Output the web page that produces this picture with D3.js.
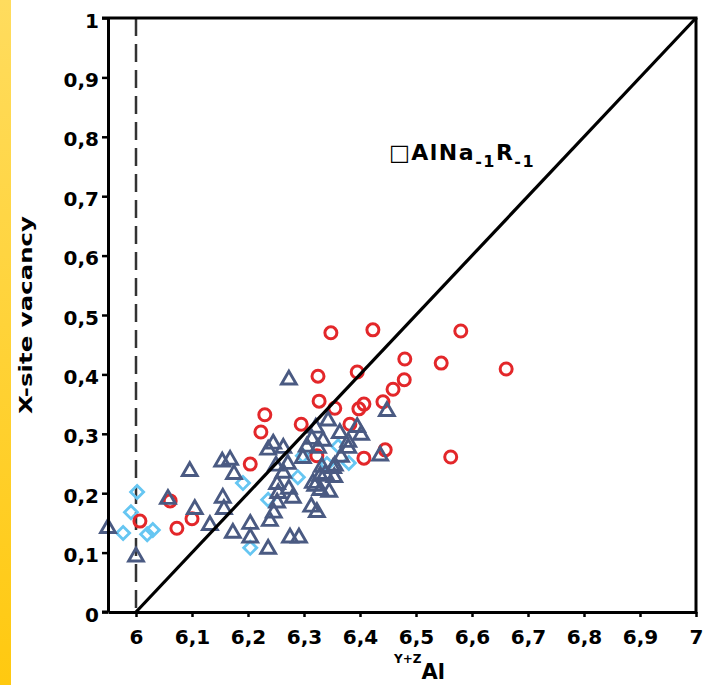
<!DOCTYPE html>
<html>
<head>
<meta charset="utf-8">
<script src="https://cdn.jsdelivr.net/npm/d3@7"></script>
<style>
html,body{margin:0;padding:0;background:#fff;}
svg{display:block;}
</style>
</head>
<body>
<script>
// ---- data ----
const xTicks = [6, 6.1, 6.2, 6.3, 6.4, 6.5, 6.6, 6.7, 6.8, 6.9, 7];
const xTickLabels = ["6","6,1","6,2","6,3","6,4","6,5","6,6","6,7","6,8","6,9","7"];
const yTicks = [0, 0.1, 0.2, 0.3, 0.4, 0.5, 0.6, 0.7, 0.8, 0.9, 1];
const yTickLabels = ["0","0,1","0,2","0,3","0,4","0,5","0,6","0,7","0,8","0,9","1"];

// red circles: [AlYZ, X-site vacancy]
const redX = [6.007,6.061,6.073,6.100,6.204,6.223,6.230,6.295,6.325,6.327,6.323,6.348,6.355,6.382,6.395,6.398,6.407,6.407,6.423,6.441,6.445,6.459,6.479,6.480,6.545,6.562,6.580,6.661];
const redY = [0.153,0.187,0.141,0.157,0.249,0.303,0.332,0.316,0.397,0.355,0.263,0.470,0.343,0.316,0.404,0.342,0.350,0.259,0.475,0.354,0.273,0.375,0.391,0.426,0.419,0.261,0.473,0.409];

// dark blue triangles
const triX = [5.950,6.000,6.057,6.096,6.105,6.132,6.154,6.168,6.175,6.155,6.157,6.173,6.204,6.204,6.236,6.236,6.245,6.263,6.250,6.271,6.263,6.252,6.273,6.280,6.252,6.246,6.239,6.275,6.291,6.316,6.338,6.355,6.366,6.379,6.329,6.313,6.323,6.273,6.448,6.436,6.343,6.364,6.395,6.402,6.379,6.321,6.314,6.325,6.305,6.298,6.332,6.352,6.329,6.354,6.345,6.334,6.254,6.320];
const triY = [0.141,0.093,0.190,0.237,0.173,0.146,0.253,0.256,0.232,0.192,0.173,0.133,0.148,0.125,0.106,0.273,0.283,0.276,0.246,0.249,0.234,0.215,0.207,0.192,0.184,0.167,0.153,0.125,0.125,0.217,0.232,0.246,0.261,0.276,0.205,0.177,0.168,0.391,0.338,0.263,0.322,0.301,0.311,0.298,0.286,0.310,0.291,0.276,0.278,0.259,0.244,0.242,0.229,0.227,0.202,0.288,0.200,0.212];

// light blue diamonds
const diaX = [5.977,5.991,6.002,6.020,6.030,6.191,6.236,6.204,6.289,6.361,6.380,6.298,6.341];
const diaY = [0.133,0.168,0.202,0.131,0.138,0.217,0.189,0.108,0.227,0.279,0.251,0.263,0.249];

// ---- layout ----
const W = 707, H = 685;
const svg = d3.select("body").append("svg").attr("width", W).attr("height", H);

const defs = svg.append("defs");
const grad = defs.append("linearGradient").attr("id","ybar").attr("x1",0).attr("y1",0).attr("x2",0).attr("y2",1);
grad.append("stop").attr("offset","0%").attr("stop-color","#FFDC5E");
grad.append("stop").attr("offset","100%").attr("stop-color","#FFC910");
svg.append("rect").attr("x",0).attr("y",0).attr("width",11).attr("height",H).attr("fill","url(#ybar)");

const x = d3.scaleLinear().domain([5.95, 7]).range([108, 696]);
const y = d3.scaleLinear().domain([0, 1]).range([612, 18]);

const FONT = "'DejaVu Sans', Verdana, sans-serif";

// dashed vertical line at 6
svg.append("line")
  .attr("x1", x(6)).attr("x2", x(6)).attr("y1", y(1)).attr("y2", y(0))
  .attr("stroke", "#333").attr("stroke-width", 2.5).attr("stroke-dasharray", "18,8");

// markers
const pts = (xs, ys) => xs.map((v,i)=>[v, ys[i]]);
svg.append("g").selectAll("path").data(pts(diaX, diaY)).join("path")
  .attr("d", d3.symbol().type(d3.symbolSquare).size(85))
  .attr("transform", d => `translate(${x(d[0])},${y(d[1])}) rotate(45)`)
  .attr("fill","none").attr("stroke","#66C6F2").attr("stroke-width",2.8);

svg.append("g").selectAll("circle").data(pts(redX, redY)).join("circle")
  .attr("cx", d => x(d[0])).attr("cy", d => y(d[1])).attr("r", 6)
  .attr("fill","none").attr("stroke","#E3272A").attr("stroke-width",3);

svg.append("g").selectAll("path").data(pts(triX, triY)).join("path")
  .attr("d", d3.symbol().type(d3.symbolTriangle).size(95))
  .attr("transform", d => `translate(${x(d[0])},${y(d[1])})`)
  .attr("fill","none").attr("stroke","#4A5A82").attr("stroke-width",2.9).attr("stroke-linejoin","miter");

// 1:1 line
svg.append("line")
  .attr("x1", x(6)).attr("y1", y(0)).attr("x2", x(7)).attr("y2", y(1))
  .attr("stroke","#000").attr("stroke-width",3.2);

// axes
const xAxis = d3.axisBottom(x).tickValues(xTicks).tickFormat((d,i)=>xTickLabels[i]).tickSize(5).tickSizeOuter(0).tickPadding(8);
const yAxis = d3.axisLeft(y).tickValues(yTicks).tickFormat((d,i)=>yTickLabels[i]).tickSize(6).tickSizeOuter(0).tickPadding(3);

const gx = svg.append("g").attr("transform", `translate(0,${y(0)})`).call(xAxis);
const gy = svg.append("g").attr("transform", `translate(${x(5.95)},0)`).call(yAxis);
[gx, gy].forEach(g => {
  g.select(".domain").attr("stroke","#000").attr("stroke-width",3);
  g.selectAll(".tick line").attr("stroke","#000").attr("stroke-width",2.5);
  g.selectAll(".tick text").attr("fill","#000").attr("font-family",FONT).attr("font-weight","bold").attr("font-size",20);
});
gy.selectAll(".tick text").attr("dy","0.45em");
gx.selectAll(".tick text").attr("dy","0.95em");

// frame top/right
svg.append("line").attr("x1", x(5.95)-6).attr("x2", x(7)+1.5).attr("y1", y(1)).attr("y2", y(1)).attr("stroke","#000").attr("stroke-width",3);
svg.append("line").attr("x1", x(7)).attr("x2", x(7)).attr("y1", y(1)).attr("y2", y(0)+1.5).attr("stroke","#000").attr("stroke-width",3);
svg.append("line").attr("x1", x(5.95)-6).attr("x2", x(5.95)).attr("y1", y(0)).attr("y2", y(0)).attr("stroke","#000").attr("stroke-width",3);

// axis titles
svg.append("text").attr("transform","translate(32,315) rotate(-90)")
  .attr("text-anchor","middle").attr("font-family",FONT).attr("font-weight","bold").attr("font-size",18)
  .attr("textLength",198).attr("lengthAdjust","spacingAndGlyphs")
  .text("X-site vacancy");

const xt = svg.append("text").attr("x",394).attr("y",679).attr("font-family",FONT).attr("font-weight","bold");
xt.append("tspan").attr("font-size",12).attr("dy",-16).text("Y+Z");
xt.append("tspan").attr("font-size",21).attr("dy",16).text("Al");

// annotation
const an = svg.append("text").attr("x",389).attr("y",160).attr("font-family",FONT).attr("font-weight","bold").attr("font-size",22).attr("letter-spacing",1.5);
an.append("tspan").text("□AlNa");
an.append("tspan").attr("font-size",16).attr("dy",7).text("-1");
an.append("tspan").attr("dy",-7).text("R");
an.append("tspan").attr("font-size",16).attr("dy",7).text("-1");
</script>
</body>
</html>
